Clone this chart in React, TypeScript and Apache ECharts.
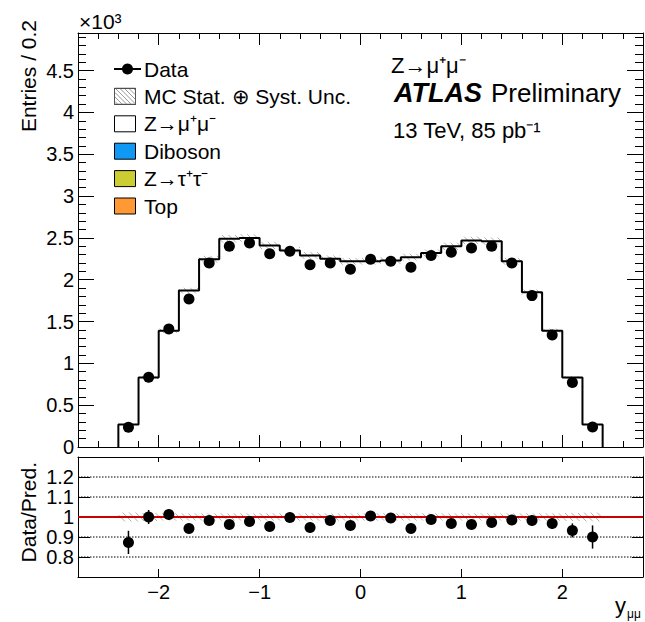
import React, { useEffect, useRef } from "react";
import * as echarts from "echarts";

// ---------- data ----------
const binEdges = [-2.4, -2.2, -2.0, -1.8, -1.6, -1.4, -1.2, -1.0, -0.8, -0.6, -0.4, -0.2, 0.0, 0.2, 0.4, 0.6, 0.8, 1.0, 1.2, 1.4, 1.6, 1.8, 2.0, 2.2, 2.4];
const binCenters = [-2.3, -2.1, -1.9, -1.7, -1.5, -1.3, -1.1, -0.9, -0.7, -0.5, -0.3, -0.1, 0.1, 0.3, 0.5, 0.7, 0.9, 1.1, 1.3, 1.5, 1.7, 1.9, 2.1, 2.3];
// MC prediction (x10^3 entries)
const mcPrediction = [0.27, 0.83, 1.39, 1.87, 2.245, 2.49, 2.5, 2.41, 2.35, 2.29, 2.25, 2.22, 2.22, 2.23, 2.27, 2.32, 2.4, 2.47, 2.46, 2.22, 1.85, 1.39, 0.83, 0.27];
// data (x10^3 entries)
const dataValues = [0.236, 0.834, 1.41, 1.77, 2.2, 2.4, 2.44, 2.31, 2.34, 2.18, 2.2, 2.125, 2.245, 2.22, 2.15, 2.29, 2.33, 2.38, 2.4, 2.2, 1.81, 1.34, 0.77, 0.24];
// relative MC stat + syst uncertainty
const mcRelUnc = [0.022, 0.02, 0.018, 0.018, 0.018, 0.018, 0.018, 0.018, 0.018, 0.018, 0.018, 0.018, 0.018, 0.018, 0.018, 0.018, 0.018, 0.018, 0.018, 0.018, 0.018, 0.018, 0.02, 0.022];
// Data / Pred.
const ratioValues = [0.873, 1.0, 1.012, 0.942, 0.983, 0.962, 0.978, 0.953, 0.997, 0.947, 0.982, 0.957, 1.005, 0.995, 0.942, 0.987, 0.968, 0.963, 0.973, 0.985, 0.982, 0.967, 0.933, 0.9];
const ratioErrors = [0.058, 0.035, 0.027, 0.024, 0.021, 0.02, 0.02, 0.02, 0.02, 0.02, 0.02, 0.02, 0.02, 0.02, 0.02, 0.02, 0.02, 0.02, 0.02, 0.021, 0.024, 0.027, 0.035, 0.058];

const xMajorTicks = [-2, -1, 0, 1, 2];
const yMainTicks = [0, 0.5, 1, 1.5, 2, 2.5, 3, 3.5, 4, 4.5];
const yRatioTicks = [0.8, 0.9, 1, 1.1, 1.2];
const ratioGridLines = [0.8, 0.9, 1.1, 1.2];
const ratioRefLine = [1.0];

const legendItems = [
  { label: "Data", kind: "data", color: "#000" },
  { label: "MC Stat. \u2295 Syst. Unc.", kind: "hatch", color: "#fff" },
  { label: "Z\u2192\u03bc\u207a\u03bc\u207b", kind: "box", color: "#ffffff" },
  { label: "Diboson", kind: "box", color: "#0f99f5" },
  { label: "Z\u2192\u03c4\u207a\u03c4\u207b", kind: "box", color: "#cccc33" },
  { label: "Top", kind: "box", color: "#ff9933" },
];

const FONT = "Liberation Sans, Arial, Helvetica, sans-serif";
const XMIN = -2.8;
const XMAX = 2.8;
const HATCH = "#b0b0b0";

function hatchLines(x0: number, y0: number, x1: number, y1: number, s: number, color: string) {
  const out: any[] = [];
  const cmin = y0 - x1;
  const cmax = y1 - x0;
  for (let k = Math.ceil(cmin / s); k * s <= cmax; k++) {
    const c = k * s;
    const xa = Math.max(x0, y0 - c);
    const xb = Math.min(x1, y1 - c);
    if (xb - xa > 0.3) {
      out.push({
        type: "line",
        shape: { x1: xa, y1: xa + c, x2: xb, y2: xb + c },
        style: { stroke: color, lineWidth: 1 },
      });
    }
  }
  return out;
}

const minusFmt = (v: number) => (v < 0 ? "\u2212" + String(-v) : String(v));

function tickAxis(opts: any) {
  return {
    type: "value",
    min: opts.min,
    max: opts.max,
    gridIndex: opts.grid,
    position: opts.position,
    interval: opts.interval,
    axisLine: { show: !!opts.line, onZero: false, lineStyle: { color: "#000", width: 1 } },
    axisTick: {
      show: true,
      inside: true,
      length: opts.len,
      customValues: opts.custom,
      lineStyle: { color: "#000", width: 1 },
    },
    axisLabel: opts.labels
      ? {
          show: true,
          customValues: opts.custom,
          formatter: opts.fmt,
          fontSize: opts.fontSize || 20,
          color: "#000",
          fontFamily: FONT,
          margin: opts.margin || 4,
        }
      : { show: false },
    splitLine: { show: false },
    minorTick: { show: false },
    minorSplitLine: { show: false },
  };
}

export default function App() {
  const ref = useRef<HTMLDivElement>(null);

  useEffect(() => {
    if (!ref.current) return;
    const chart = echarts.init(ref.current, undefined, { renderer: "svg" });

    // step outline of MC histogram
    const stepData: number[][] = [[binEdges[0], 0]];
    for (let i = 0; i < mcPrediction.length; i++) stepData.push([binEdges[i + 1], mcPrediction[i]]);
    stepData.push([binEdges[binEdges.length - 1], 0]);

    const mainBand = mcPrediction.map((v, i) => [binEdges[i], binEdges[i + 1], v * (1 + mcRelUnc[i]), v * (1 - mcRelUnc[i])]);
    const ratioBand = mcRelUnc.map((u, i) => [binEdges[i], binEdges[i + 1], 1 + u, 1 - u]);

    const bandRender = (params: any, api: any) => {
      const p1 = api.coord([api.value(0), api.value(2)]);
      const p2 = api.coord([api.value(1), api.value(3)]);
      return { type: "group", children: hatchLines(p1[0], p1[1], p2[0], p2[1], 6.5, HATCH) };
    };

    // legend graphics
    const legendG: any[] = [];
    const rowY0 = 69;
    const rowDy = 27.4;
    legendItems.forEach((it, i) => {
      const cy = rowY0 + i * rowDy;
      if (it.kind === "data") {
        legendG.push({ type: "line", shape: { x1: 114, y1: cy, x2: 141, y2: cy }, style: { stroke: "#000", lineWidth: 2 } });
        legendG.push({ type: "circle", shape: { cx: 127.5, cy, r: 5.5 }, style: { fill: "#000" } });
      } else {
        legendG.push({ type: "rect", shape: { x: 114.5, y: cy - 8, width: 21, height: 16 }, style: { fill: it.color, stroke: "#000", lineWidth: 1 } });
        if (it.kind === "hatch") {
          hatchLines(115, cy - 7.5, 135, cy + 7.5, 4.5, "#999").forEach((l) => legendG.push(l));
          legendG.push({ type: "rect", shape: { x: 114.5, y: cy - 8, width: 21, height: 16 }, style: { fill: "none", stroke: "#555", lineWidth: 1 } });
        }
      }
      legendG.push({
        type: "text",
        x: 144,
        y: cy,
        style: { text: it.label, font: `21px ${FONT}`, fill: "#000", textVerticalAlign: "middle", textAlign: "left" },
      });
    });

    const textG: any[] = [
      { type: "text", x: 79, y: 21, style: { text: "\u00d710\u00b3", font: `21px ${FONT}`, fill: "#000", textVerticalAlign: "middle" } },
      {
        type: "text",
        x: 28,
        y: 20,
        rotation: Math.PI / 2,
        style: { text: "Entries / 0.2", font: `21px ${FONT}`, fill: "#000", textAlign: "right", textVerticalAlign: "middle" },
      },
      {
        type: "text",
        x: 28,
        y: 462,
        rotation: Math.PI / 2,
        style: { text: "Data/Pred.", font: `21px ${FONT}`, fill: "#000", textAlign: "right", textVerticalAlign: "middle" },
      },
      { type: "text", x: 391, y: 65, style: { text: "Z\u2192\u03bc\u207a\u03bc\u207b", font: `22px ${FONT}`, fill: "#000", textVerticalAlign: "middle" } },
      {
        type: "text",
        x: 394,
        y: 93,
        style: {
          text: "{b|ATLAS}{n|Preliminary}",
          fill: "#000",
          textVerticalAlign: "middle",
          rich: {
            b: { fontSize: 27, fontWeight: "bold", fontStyle: "italic", fontFamily: FONT, fill: "#000" },
            n: { fontSize: 26, fontFamily: FONT, fill: "#000", padding: [0, 0, 0, 9] },
          },
        },
      },
      { type: "text", x: 393, y: 130, style: { text: "13 TeV, 85 pb\u207b\u00b9", font: `22px ${FONT}`, fill: "#000", textVerticalAlign: "middle" } },
      { type: "text", x: 615, y: 605, style: { text: "y", font: `22px ${FONT}`, fill: "#000", textVerticalAlign: "middle" } },
      { type: "text", x: 627, y: 614, style: { text: "\u03bc\u03bc", font: `12px ${FONT}`, fill: "#000", textVerticalAlign: "middle" } },
    ];

    const option: any = {
      animation: false,
      backgroundColor: "#fff",
      textStyle: { fontFamily: FONT, color: "#000" },
      grid: [
        { left: 78, top: 33, right: 2, height: 414, containLabel: false },
        { left: 78, top: 457, right: 2, height: 120, containLabel: false },
      ],
      xAxis: [
        tickAxis({ grid: 0, position: "bottom", min: XMIN, max: XMAX, custom: xMajorTicks, len: 12, line: true }),
        tickAxis({ grid: 0, position: "bottom", min: XMIN, max: XMAX, interval: 0.2, len: 6 }),
        tickAxis({ grid: 0, position: "top", min: XMIN, max: XMAX, custom: xMajorTicks, len: 12, line: true }),
        tickAxis({ grid: 0, position: "top", min: XMIN, max: XMAX, interval: 0.2, len: 6 }),
        tickAxis({ grid: 1, position: "bottom", min: XMIN, max: XMAX, custom: xMajorTicks, len: 8, line: true, labels: true, fmt: minusFmt, margin: 5, fontSize: 20 }),
        tickAxis({ grid: 1, position: "top", min: XMIN, max: XMAX, custom: xMajorTicks, len: 5, line: true }),
      ],
      yAxis: [
        tickAxis({ grid: 0, position: "left", min: 0, max: 4.95, custom: yMainTicks, len: 16, line: true, labels: true, fmt: (v: number) => String(v) }),
        tickAxis({ grid: 0, position: "left", min: 0, max: 4.95, interval: 0.1, len: 8 }),
        tickAxis({ grid: 0, position: "right", min: 0, max: 4.95, custom: yMainTicks, len: 16, line: true }),
        tickAxis({ grid: 0, position: "right", min: 0, max: 4.95, interval: 0.1, len: 8 }),
        tickAxis({ grid: 1, position: "left", min: 0.7, max: 1.3, custom: yRatioTicks, len: 12, line: true, labels: true, fmt: (v: number) => String(v) }),
        tickAxis({ grid: 1, position: "right", min: 0.7, max: 1.3, custom: yRatioTicks, len: 11, line: true }),
      ],
      series: [
        {
          type: "custom",
          name: "MC Stat. \u2295 Syst. Unc.",
          xAxisIndex: 0,
          yAxisIndex: 0,
          data: mainBand,
          encode: { x: [0, 1], y: [2, 3] },
          renderItem: bandRender,
          z: 1,
          silent: true,
        },
        {
          type: "line",
          name: "Z\u2192\u03bc\u207a\u03bc\u207b",
          xAxisIndex: 0,
          yAxisIndex: 0,
          data: stepData,
          step: "start",
          symbol: "none",
          lineStyle: { color: "#000", width: 2 },
          z: 2,
          silent: true,
        },
        {
          type: "scatter",
          name: "Data",
          xAxisIndex: 0,
          yAxisIndex: 0,
          data: binCenters.map((x, i) => [x, dataValues[i]]),
          symbol: "circle",
          symbolSize: 11,
          itemStyle: { color: "#000", opacity: 1 },
          z: 10,
          silent: true,
        },
        // ratio panel
        {
          type: "custom",
          xAxisIndex: 4,
          yAxisIndex: 4,
          data: ratioBand,
          encode: { x: [0, 1], y: [2, 3] },
          renderItem: bandRender,
          z: 1,
          silent: true,
        },
        {
          type: "custom",
          xAxisIndex: 4,
          yAxisIndex: 4,
          data: ratioGridLines.map((v) => [v]),
          encode: { y: 0 },
          renderItem: (params: any, api: any) => {
            const p1 = api.coord([XMIN, api.value(0)]);
            const p2 = api.coord([XMAX, api.value(0)]);
            return { type: "line", shape: { x1: p1[0], y1: p1[1], x2: p2[0], y2: p2[1] }, style: { stroke: "#000", lineWidth: 1, lineDash: [1.5, 1.5] } };
          },
          z: 2,
          silent: true,
        },
        {
          type: "custom",
          xAxisIndex: 4,
          yAxisIndex: 4,
          data: ratioRefLine.map((v) => [v]),
          encode: { y: 0 },
          renderItem: (params: any, api: any) => {
            const p1 = api.coord([XMIN, api.value(0)]);
            const p2 = api.coord([XMAX, api.value(0)]);
            return { type: "line", shape: { x1: p1[0], y1: p1[1], x2: p2[0], y2: p2[1] }, style: { stroke: "#cc0000", lineWidth: 2 } };
          },
          z: 3,
          silent: true,
        },
        {
          type: "custom",
          xAxisIndex: 4,
          yAxisIndex: 4,
          data: binCenters.map((x, i) => [x, ratioValues[i] - ratioErrors[i], ratioValues[i] + ratioErrors[i]]),
          encode: { x: 0, y: [1, 2] },
          renderItem: (params: any, api: any) => {
            const p1 = api.coord([api.value(0), api.value(1)]);
            const p2 = api.coord([api.value(0), api.value(2)]);
            return { type: "line", shape: { x1: p1[0], y1: p1[1], x2: p2[0], y2: p2[1] }, style: { stroke: "#000", lineWidth: 1.5 } };
          },
          z: 9,
          silent: true,
        },
        {
          type: "scatter",
          xAxisIndex: 4,
          yAxisIndex: 4,
          data: binCenters.map((x, i) => [x, ratioValues[i]]),
          symbol: "circle",
          symbolSize: 11,
          itemStyle: { color: "#000", opacity: 1 },
          z: 10,
          silent: true,
        },
      ],
      graphic: [...legendG, ...textG],
    };

    chart.setOption(option);
    return () => chart.dispose();
  }, []);

  return <div ref={ref} style={{ position: "fixed", left: 0, top: 0, width: 645, height: 622, background: "#fff" }} />;
}
